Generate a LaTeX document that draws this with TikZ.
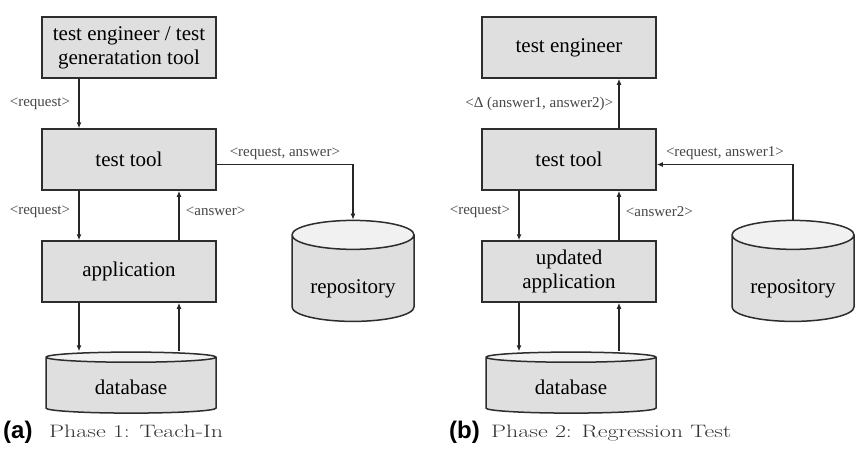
\documentclass[tikz,border=0pt]{standalone}
\usepackage{fontspec}
\usepackage{graphicx}
\newfontfamily\boxfont{Liberation Serif}
\newfontfamily\tagfont{Liberation Sans}
\usetikzlibrary{positioning,shapes.geometric,arrows.meta}
\definecolor{boxgray}{RGB}{223,223,223}
\definecolor{topgray}{RGB}{241,241,241}
\definecolor{edgegray}{RGB}{45,45,45}
\definecolor{msggray}{RGB}{70,70,70}
\tikzset{
  block/.style={draw=edgegray, line width=1.5pt, fill=boxgray, minimum width=174pt,
    minimum height=61pt, align=center, font=\boxfont\fontsize{21}{24}\selectfont},
  store/.style={cylinder, shape border rotate=90, draw=edgegray, line width=1.5pt,
    cylinder uses custom fill, cylinder body fill=boxgray, cylinder end fill=topgray,
    inner sep=0pt, font=\boxfont\fontsize{21}{24}\selectfont},
  flow/.style={line width=1.9pt, draw=black!85, -{Latex[length=6pt,width=5pt]}},
  msg/.style={font=\boxfont\fontsize{15}{17}\selectfont, text=msggray, inner sep=1pt},
  tag/.style={font=\tagfont\bfseries\fontsize{24}{26}\selectfont, inner sep=0pt, anchor=base west},
  capt/.style={font=\fontsize{18}{20}\selectfont, text=black!80, inner sep=0pt, anchor=base west}
}

\begin{document}
\begin{tikzpicture}[x=1pt, y=1pt, node distance=112pt, on grid]
   \useasboundingbox (0,0) rectangle (864,-451);

   % (a) teach-in
   \node[block] (engA) at (129,-47.5) {test engineer / test\\generatation tool};
   \node[block] (toolA) [below=of engA] {test tool};
   \node[block] (appA) [below=of toolA] {application};
   \node[store, minimum width=170pt, minimum height=61pt, aspect=0.14, text height=18pt, text depth=1pt]
        (dbA) [below=of appA, xshift=2pt, yshift=-2pt] {database};
   \node[store, minimum width=122pt, minimum height=101pt, aspect=0.34, text height=30pt, text depth=0pt]
        (repoA) [right=224pt of appA, yshift=-7pt] {repository};

   \draw[flow] ([xshift=-50pt]engA.south) -- node[msg, left=7pt] {<request>} ([xshift=-50pt]toolA.north);
   \draw[flow] ([xshift=-50pt]toolA.south) -- node[msg, left=7pt, yshift=4pt] {<request>} ([xshift=-50pt]appA.north);
   \draw[flow] ([xshift=50pt]appA.north) -- node[msg, right=5pt, yshift=4pt] {<answer>} ([xshift=50pt]toolA.south);
   \draw[flow] ([yshift=-5pt]toolA.east) -| node[msg, above=3pt, pos=0.25] {<request, answer>} (repoA.north);
   \draw[flow] ([xshift=-50pt]appA.south) -- ([xshift=-50pt]appA.south |- dbA.north);
   \draw[flow] ([xshift=50pt]appA.south |- dbA.north) -- ([xshift=50pt]appA.south);

   \node[tag] (tagA) at (3,-438) {(a)};
   \node[capt] (captA) at (49,-437) {\scalebox{1.33}[1]{Phase 1: Teach-In}};

   % (b) regression test
   \node[block] (engB) at (569,-47.5) {test engineer};
   \node[block] (toolB) [below=of engB] {test tool};
   \node[block] (appB) [below=of toolB] {updated\\application};
   \node[store, minimum width=170pt, minimum height=61pt, aspect=0.14, text height=18pt, text depth=1pt]
        (dbB) [below=of appB, xshift=2pt, yshift=-2pt] {database};
   \node[store, minimum width=122pt, minimum height=101pt, aspect=0.34, text height=30pt, text depth=0pt]
        (repoB) [right=224pt of appB, yshift=-7pt] {repository};

   \draw[flow] ([xshift=50pt]toolB.north) -- node[msg, left=4pt] {<Δ (answer1, answer2)>} ([xshift=50pt]engB.south);
   \draw[flow] ([xshift=-50pt]toolB.south) -- node[msg, left=7pt, yshift=4pt] {<request>} ([xshift=-50pt]appB.north);
   \draw[flow] ([xshift=50pt]appB.north) -- node[msg, right=5pt, yshift=4pt] {<answer2>} ([xshift=50pt]toolB.south);
   \draw[flow] (repoB.north) |- node[msg, above=3pt, pos=0.75] {<request, answer1>} ([yshift=-5pt]toolB.east);
   \draw[flow] ([xshift=-50pt]appB.south) -- ([xshift=-50pt]appB.south |- dbB.north);
   \draw[flow] ([xshift=50pt]appB.south |- dbB.north) -- ([xshift=50pt]appB.south);

   \node[tag] (tagB) at (449,-438) {(b)};
   \node[capt] (captB) at (491,-437) {\scalebox{1.33}[1]{Phase 2: Regression Test}};
\end{tikzpicture}
\end{document}
